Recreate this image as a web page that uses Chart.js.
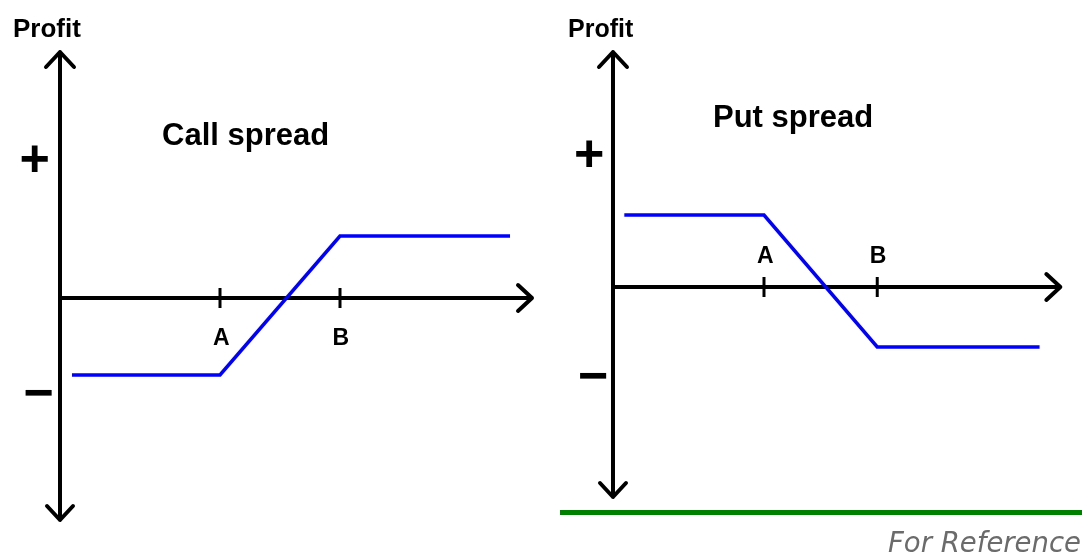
<!DOCTYPE html>
<html>
<head>
<meta charset="utf-8">
<script src="https://cdn.jsdelivr.net/npm/chart.js@4.4.1/dist/chart.umd.min.js"></script>
<style>
html, body { margin: 0; padding: 0; background: #fff; overflow: hidden; }
#wrap { position: relative; width: 1082px; height: 553px; }
.panel { position: absolute; top: 0; width: 541px; height: 553px; }
#left { left: 0; }
#right { left: 541px; }
#rule { position: absolute; left: 560px; top: 510px; width: 522px; height: 5px; background: #008000; }
#note { position: absolute; left: 888px; top: 529px; font: italic 27.5px/27.5px "DejaVu Sans"; color: #6b6b6b; white-space: nowrap; }
</style>
</head>
<body>
<div id="wrap">
    <div class="panel" id="left"><canvas id="chartCall" width="541" height="553"></canvas></div>
    <div class="panel" id="right"><canvas id="chartPut" width="541" height="553"></canvas></div>
    <div id="rule"></div>
    <div id="note">For Reference</div>
</div>
<script>
// price axis: 0 is the origin, strikes sit at A and B
const strikeLabels = ['A', 'B'];
const strikePrices = [4, 7];

const callPrices = [0.3, 4, 7, 11.25];
const callProfit = [-3.85, -3.85, 3.1, 3.1];

const putPrices = [0.3, 4, 7, 11.3];
const putProfit = [3.6, 3.6, -3.0, -3.0];

// where the arrows of each drawn axis end: [price end, profit top, profit bottom]
const callAxisEnds = [11.8, 12.3, -11.1];
const putAxisEnds = [11.85, 11.75, -10.5];

const FONT = '"Liberation Sans", Arial, sans-serif';

// draw text so that the middle of its ink box lands on (cx, cy)
const centerText = (ctx, txt, cx, cy) => {
    const m = ctx.measureText(txt);
    const w = m.actualBoundingBoxLeft + m.actualBoundingBoxRight;
    const h = m.actualBoundingBoxAscent + m.actualBoundingBoxDescent;
    ctx.fillText(txt, cx - w / 2 + m.actualBoundingBoxLeft, cy - h / 2 + m.actualBoundingBoxAscent);
}

const payoffAxes = (setup) => ({
    id: 'payoffAxes',
    beforeDatasetsDraw(chart) {
        const { ctx, scales: { x, y } } = chart;
        const ox = x.getPixelForValue(0);
        const oy = y.getPixelForValue(0);
        const [xEnd, yTop, yBottom] = setup.ends;
        const right = x.getPixelForValue(xEnd);
        const top = y.getPixelForValue(yTop);
        const bottom = y.getPixelForValue(yBottom);

        ctx.save();
        ctx.strokeStyle = '#000';
        ctx.fillStyle = '#000';
        ctx.lineWidth = 4;
        ctx.lineCap = 'round';
        ctx.lineJoin = 'round';
        ctx.beginPath();
        ctx.moveTo(ox, top); ctx.lineTo(ox, bottom);
        ctx.moveTo(ox, oy); ctx.lineTo(right, oy);
        ctx.moveTo(ox - 14, top + 15); ctx.lineTo(ox, top); ctx.lineTo(ox + 14, top + 15);
        ctx.moveTo(ox - 13, bottom - 14); ctx.lineTo(ox, bottom); ctx.lineTo(ox + 13, bottom - 14);
        ctx.moveTo(right - 14, oy - 13); ctx.lineTo(right, oy); ctx.lineTo(right - 14, oy + 13);
        ctx.stroke();

        // strike ticks + labels
        ctx.lineWidth = 3;
        ctx.lineCap = 'butt';
        ctx.font = 'bold 23px ' + FONT;
        strikePrices.forEach((p, i) => {
            const px = x.getPixelForValue(p);
            ctx.beginPath();
            ctx.moveTo(px, oy - 10);
            ctx.lineTo(px, oy + 10);
            ctx.stroke();
            centerText(ctx, strikeLabels[i], px + 1, oy + setup.labelOffset);
        });

        // + / − marks on the profit axis
        ctx.font = 'bold 52px ' + FONT;
        centerText(ctx, '+', ox + setup.plus[0], oy + setup.plus[1]);
        centerText(ctx, '\u2212', ox + setup.minus[0], oy + setup.minus[1]);

        // axis name and title
        ctx.textAlign = 'left';
        ctx.textBaseline = 'alphabetic';
        ctx.font = 'bold ' + setup.profitSize + 'px ' + FONT;
        ctx.fillText('Profit', setup.profitPos[0], setup.profitPos[1]);
        ctx.font = 'bold 31px ' + FONT;
        ctx.fillText(setup.title, setup.titlePos[0], setup.titlePos[1]);
        ctx.restore();
    }
});

const makeChart = (canvasId, prices, profit, xRange, yRange, setup) => new Chart(document.getElementById(canvasId).getContext('2d'), {
    type: 'line',
    data: {
        datasets: [
            {
                label: setup.title,
                data: prices.map((p, i) => ({ x: p, y: profit[i] })),
                borderColor: '#0000ff',
                borderWidth: 3.5,
                pointRadius: 0,
                tension: 0,
                fill: false
            }
        ]
    },
    options: {
        responsive: false,
        animation: false,
        layout: { padding: 0 },
        plugins: {
            legend: { display: false },
            tooltip: { enabled: false }
        },
        scales: {
            x: { type: 'linear', display: false, min: xRange[0], max: xRange[1] },
            y: { type: 'linear', display: false, min: yRange[0], max: yRange[1] }
        }
    },
    plugins: [payoffAxes(setup)]
});

const chartCall = makeChart('chartCall', callPrices, callProfit, [-1.5, 12.025], [-12.75, 14.9], {
    title: 'Call spread',
    titlePos: [162, 145],
    profitPos: [13, 37],
    profitSize: 26,
    ends: callAxisEnds,
    labelOffset: 38,
    plus: [-25, -140],
    minus: [-21, 94]
});

const chartPut = makeChart('chartPut', putPrices, putProfit, [-1.907, 12.424], [-13.3, 14.35], {
    title: 'Put spread',
    titlePos: [172, 127],
    profitPos: [27, 37],
    profitSize: 25,
    ends: putAxisEnds,
    labelOffset: -33,
    plus: [-23.5, -133.5],
    minus: [-19.5, 88]
});
</script>
</body>
</html>
